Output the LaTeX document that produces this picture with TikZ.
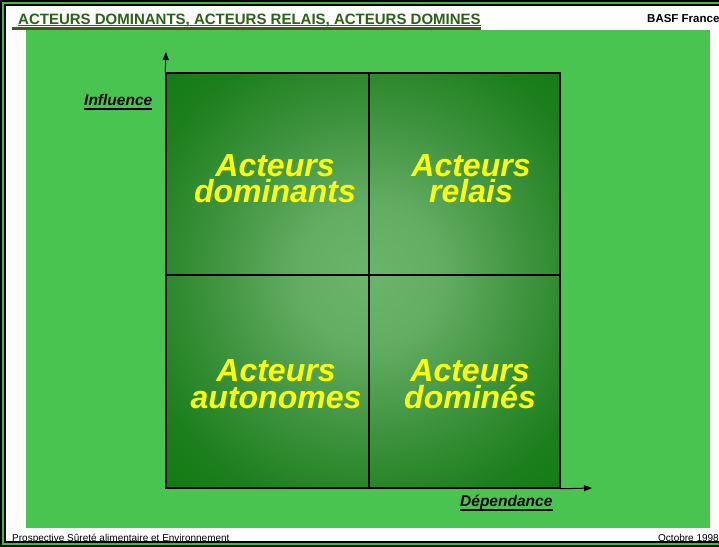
\documentclass[tikz,border=0pt]{standalone}
\usepackage{fontspec}
\setmainfont{Liberation Sans}
\usetikzlibrary{arrows.meta}
\definecolor{panel}{RGB}{74,196,80}
\definecolor{titlegreen}{RGB}{40,100,20}
\definecolor{bargreen}{RGB}{62,92,18}
\definecolor{framegreen}{RGB}{60,190,60}
\definecolor{labelyellow}{RGB}{255,255,0}
\pgfdeclareradialshading{quadshade}{\pgfpoint{0bp}{0bp}}{rgb(0bp)=(0.42,0.71,0.42); rgb(8bp)=(0.39,0.68,0.39); rgb(18bp)=(0.25,0.58,0.25); rgb(28bp)=(0.11,0.50,0.11); rgb(38bp)=(0.05,0.47,0.05); rgb(50bp)=(0.03,0.45,0.03)}
\begin{document}
\begin{tikzpicture}[x=1pt,y=-1pt,
  quadlabel/.style={text=labelyellow, font=\fontsize{32}{26.5}\selectfont\bfseries\itshape, align=center, inner sep=0},
  axislabel/.style={font=\fontsize{15.5}{18}\selectfont\bfseries\itshape, inner sep=0, anchor=base west},
  axisarrow/.style={line width=1pt, -{Triangle[length=8pt,width=6pt]}},
  smalltext/.style={font=\fontsize{10}{12}\selectfont, inner sep=0}]
\useasboundingbox (0,0) rectangle (719,546);
\fill[white] (0,0) rectangle (719,546);
% frame
\draw[black, line width=2pt] (1,1) rectangle (730,546);
\draw[framegreen, line width=2pt] (3,3) rectangle (728,544);
\draw[black, line width=1.5pt] (4.75,4.75) rectangle (726,542);
% panel
\fill[panel] (26,30) rectangle (710,528);
% title
\node[anchor=base west, text=titlegreen, font=\fontsize{15}{18}\selectfont\bfseries, inner sep=0] (title) at (18,24) {ACTEURS DOMINANTS, ACTEURS RELAIS, ACTEURS DOMINES};
\draw[titlegreen, line width=1pt] ([yshift=-1.5pt]title.base west) -- ([yshift=-1.5pt]title.base east);
\fill[bargreen] (12,27) rectangle ([yshift=-6pt]title.base east);
\node[anchor=base west, font=\fontsize{11.5}{13}\selectfont\bfseries, inner sep=0] (basf) at (647,22) {BASF France};
% footer
\node[smalltext, anchor=base west] (foot) at (12,541) {Prospective Sûreté alimentaire et Environnement};
\node[smalltext, anchor=base east] (date) at (719,541) {Octobre 1998};
% matrix box
\coordinate (cross) at (369,275);
\begin{scope}
  \clip (166,73) rectangle (560,488);
  \shade[shading=quadshade] (154,60) rectangle (584,490);
\end{scope}
\node[draw, line width=1.5pt, minimum width=394pt, minimum height=415pt, inner sep=0] (box) at (363,280.5) {};
\draw[line width=1.5pt] (box.north -| cross) -- (box.south -| cross);
\draw[line width=1.5pt] (box.west |- cross) -- (box.east |- cross);
% axes
\coordinate (ytip) at (166,52);
\coordinate (xtip) at (592,488);
\draw[axisarrow] (box.north west) -- (ytip);
\draw[axisarrow] (box.south east) -- (xtip);
\node[axislabel] (infl) at (84,105) {Influence};
\draw[line width=1.5pt] ([yshift=-4pt]infl.base west) -- ([yshift=-4pt]infl.base east);
\node[axislabel] (dep) at (460,506) {Dépendance};
\draw[line width=1.5pt] ([yshift=-4pt]dep.base west) -- ([yshift=-4pt]dep.base east);
% quadrant labels
\node[quadlabel] (tl) at (275,178.5) {Acteurs\\dominants};
\node[quadlabel] (tr) at (471,178.5) {Acteurs\\relais};
\node[quadlabel] (bl) at (276,384) {Acteurs\\autonomes};
\node[quadlabel] (br) at (470,384) {Acteurs\\dominés};
\end{tikzpicture}
\end{document}
